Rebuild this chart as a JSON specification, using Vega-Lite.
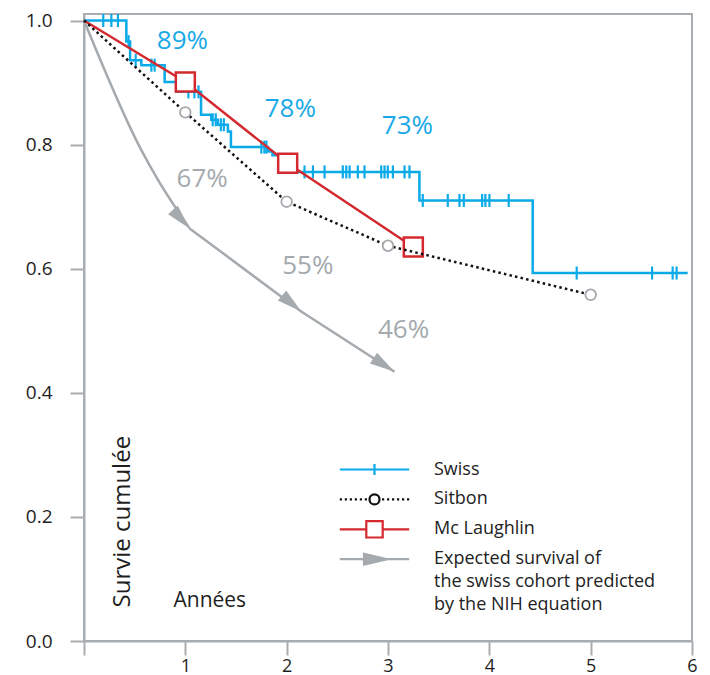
{
  "$schema": "https://vega.github.io/schema/vega-lite/v6.json",
  "width": 608,
  "height": 627,
  "autosize": "none",
  "padding": {"left": 84, "top": 14, "right": 18, "bottom": 34},
  "background": "white",
  "config": {
    "font": "Open Sans",
    "view": {"stroke": "#a8adb1", "strokeWidth": 2},
    "axis": {
      "grid": false,
      "domainColor": "#a8adb1",
      "domainWidth": 2,
      "tickColor": "#a8adb1",
      "tickWidth": 2,
      "tickSize": 14,
      "labelFont": "Open Sans",
      "labelFontSize": 19,
      "labelColor": "#1e1e1e",
      "titleFont": "Open Sans",
      "titleFontSize": 22,
      "titleFontWeight": "normal",
      "titleColor": "#1e1e1e",
      "labelFlush": false,
      "labelOverlap": false
    }
  },
  "datasets": {
    "swiss": [
      {"x": 0, "y": 1.0}, {"x": 0.418, "y": 0.966}, {"x": 0.455, "y": 0.936},
      {"x": 0.566, "y": 0.928}, {"x": 0.796, "y": 0.901}, {"x": 0.91, "y": 0.885},
      {"x": 1.155, "y": 0.848}, {"x": 1.256, "y": 0.84}, {"x": 1.32, "y": 0.832},
      {"x": 1.42, "y": 0.821}, {"x": 1.45, "y": 0.796}, {"x": 1.815, "y": 0.789},
      {"x": 1.86, "y": 0.783}, {"x": 1.93, "y": 0.768}, {"x": 2.03, "y": 0.756},
      {"x": 3.31, "y": 0.71}, {"x": 4.428, "y": 0.593}, {"x": 5.957, "y": 0.593}
    ],
    "swissCensor": [
      {"x": 0.19, "y": 1.0}, {"x": 0.27, "y": 1.0}, {"x": 0.335, "y": 1.0},
      {"x": 0.44, "y": 0.966}, {"x": 0.51, "y": 0.936},
      {"x": 0.665, "y": 0.928}, {"x": 0.697, "y": 0.928},
      {"x": 1.03, "y": 0.885}, {"x": 1.09, "y": 0.885}, {"x": 1.13, "y": 0.885},
      {"x": 1.27, "y": 0.84}, {"x": 1.3, "y": 0.84},
      {"x": 1.35, "y": 0.832}, {"x": 1.38, "y": 0.832},
      {"x": 1.75, "y": 0.796}, {"x": 1.78, "y": 0.796}, {"x": 1.8, "y": 0.796},
      {"x": 2.176, "y": 0.756}, {"x": 2.259, "y": 0.756}, {"x": 2.374, "y": 0.756},
      {"x": 2.554, "y": 0.756}, {"x": 2.588, "y": 0.756}, {"x": 2.621, "y": 0.756},
      {"x": 2.702, "y": 0.756}, {"x": 2.768, "y": 0.756}, {"x": 2.933, "y": 0.756},
      {"x": 2.966, "y": 0.756}, {"x": 2.998, "y": 0.756}, {"x": 3.048, "y": 0.756},
      {"x": 3.163, "y": 0.756}, {"x": 3.212, "y": 0.756},
      {"x": 3.343, "y": 0.71}, {"x": 3.59, "y": 0.71}, {"x": 3.705, "y": 0.71},
      {"x": 3.748, "y": 0.71}, {"x": 3.929, "y": 0.71}, {"x": 3.961, "y": 0.71},
      {"x": 4.001, "y": 0.71}, {"x": 4.191, "y": 0.71},
      {"x": 4.862, "y": 0.593}, {"x": 5.606, "y": 0.593}, {"x": 5.809, "y": 0.593},
      {"x": 5.848, "y": 0.593}
    ],
    "sitbon": [
      {"x": 0, "y": 1.0}, {"x": 1.0, "y": 0.852}, {"x": 2.0, "y": 0.708},
      {"x": 3.0, "y": 0.637}, {"x": 5.0, "y": 0.558}
    ],
    "mcl": [
      {"x": 0, "y": 1.0}, {"x": 1.0, "y": 0.901}, {"x": 2.01, "y": 0.77},
      {"x": 3.25, "y": 0.635}
    ],
    "expected": [
      {"x": 0, "y": 1.0}, {"x": 0.566, "y": 0.791}, {"x": 0.73, "y": 0.743},
      {"x": 1.042, "y": 0.665}, {"x": 2.144, "y": 0.531}, {"x": 3.064, "y": 0.434}
    ],
    "labels": [
      {"x": 0.971, "y": 0.967, "text": "89%", "group": "Swiss"},
      {"x": 2.036, "y": 0.857, "text": "78%", "group": "Swiss"},
      {"x": 3.192, "y": 0.83, "text": "73%", "group": "Swiss"},
      {"x": 1.166, "y": 0.744, "text": "67%", "group": "Expected"},
      {"x": 2.209, "y": 0.605, "text": "55%", "group": "Expected"},
      {"x": 3.153, "y": 0.501, "text": "46%", "group": "Expected"}
    ]
  },
  "encoding": {
    "x": {
      "field": "x",
      "type": "quantitative",
      "scale": {"domain": [0, 6], "nice": false, "zero": false},
      "axis": {
        "values": [0, 1, 2, 3, 4, 5, 6],
        "labelExpr": "datum.value == 0 ? '' : datum.label",
        "labelPadding": 2,
        "labelFontSize": 18,
        "title": "Années",
        "titleFontSize": 21,
        "titleX": 89,
        "titleY": -35,
        "titleAlign": "left",
        "titleBaseline": "alphabetic",
        "titleAnchor": null
      }
    },
    "y": {
      "field": "y",
      "type": "quantitative",
      "scale": {"domain": [0, 1.0105], "nice": false, "zero": false},
      "axis": {
        "values": [0, 0.2, 0.4, 0.6, 0.8, 1.0],
        "format": ".1f",
        "labelPadding": 18,
        "title": "Survie cumulée",
        "titleFontSize": 24,
        "titleAngle": 270,
        "titleX": 45,
        "titleY": 593,
        "titleAlign": "left",
        "titleBaseline": "alphabetic",
        "titleAnchor": null
      }
    }
  },
  "layer": [
    {
      "data": {"name": "swiss"},
      "mark": {"type": "line", "interpolate": "step-after", "strokeWidth": 2.5},
      "encoding": {
        "stroke": {
          "datum": "Swiss",
          "type": "nominal",
          "scale": {
            "domain": ["Swiss", "Sitbon", "Mc Laughlin", "Expected"],
            "range": ["#0aaae8", "#111111", "#d42a2f", "#a5aaae"]
          },
          "legend": {
            "title": null,
            "orient": "none",
            "legendX": 279,
            "legendY": 444,
            "padding": 0,
            "symbolSize": 400,
            "symbolStrokeWidth": 2.2,
            "labelOffset": 48,
            "labelFont": "Open Sans",
            "labelFontSize": 18,
            "labelColor": "#222222",
            "labelLimit": 400,
            "rowPadding": 0.9,
            "labelExpr": "datum.label == 'Expected' ? ['Expected survival of', 'the swiss cohort predicted', 'by the NIH equation'] : datum.label",
            "encode": {
              "symbols": {
                "update": {
                  "shape": {"signal": "datum.value == 'Swiss' ? 'M0,-1M0,1M-3.47,0H3.47M0,-0.55V0.55' : datum.value == 'Sitbon' ? 'M0,-1M0,1M-3.47,0h0.22M-2.97,0h0.22M-2.47,0h0.22M-1.97,0h0.22M-1.47,0h0.22M-0.97,0h0.22M0.75,0h0.22M1.25,0h0.22M1.75,0h0.22M2.25,0h0.22M2.75,0h0.22M3.25,0h0.22M-0.5,0A0.5,0.5,0,1,1,0.5,0A0.5,0.5,0,1,1,-0.5,0Z' : datum.value == 'Mc Laughlin' ? 'M0,-1M0,1M-3.47,0H-0.82M0.82,0H3.47M-0.82,-0.82H0.82V0.82H-0.82Z' : 'M0,-1M0,1M-3.47,0H3.47M-1.05,-0.55L1.3,0L-1.05,0.55Z'"},
                  "fill": {"signal": "datum.value == 'Expected' ? '#a5aaae' : 'white'"},
                  "strokeDash": {"value": []},
                  "strokeWidth": {"value": 2.2},
                  "opacity": {"value": 1}
                }
              },
              "labels": {
                "update": {
                  "lineHeight": {"value": 22.7}
                }
              }
            }
          }
        }
      }
    },
    {
      "data": {"name": "swissCensor"},
      "mark": {"type": "point", "shape": "M0,-1V1", "size": 169, "filled": false, "stroke": "#0aaae8", "strokeWidth": 2.2, "opacity": 1}
    },
    {
      "data": {"name": "expected"},
      "transform": [{"filter": "datum.x <= 1.042"}],
      "mark": {"type": "line", "interpolate": "monotone", "strokeWidth": 2.5},
      "encoding": {"stroke": {"datum": "Expected", "type": "nominal"}}
    },
    {
      "data": {"name": "expected"},
      "transform": [{"filter": "datum.x >= 1.042"}],
      "mark": {"type": "line", "strokeWidth": 2.5},
      "encoding": {"stroke": {"datum": "Expected", "type": "nominal"}}
    },
    {
      "data": {"name": "expected"},
      "transform": [{"filter": "datum.x >= 1"}],
      "mark": {"type": "point", "shape": "M0,0L-5,-1.3L-5,1.3Z", "size": 100, "filled": true, "fill": "#a5aaae", "strokeWidth": 0, "opacity": 1},
      "encoding": {
        "angle": {"field": "x", "type": "quantitative", "scale": {"domain": [1.042, 3.064], "range": [48, 33], "zero": false}, "legend": null}
      }
    },
    {
      "data": {"name": "mcl"},
      "mark": {"type": "line", "strokeWidth": 2.5},
      "encoding": {"stroke": {"datum": "Mc Laughlin", "type": "nominal"}}
    },
    {
      "data": {"name": "mcl"},
      "transform": [{"filter": "datum.x > 0"}],
      "mark": {"type": "point", "shape": "square", "size": 361, "filled": true, "fill": "white", "stroke": "#d42a2f", "strokeWidth": 2.5, "opacity": 1}
    },
    {
      "data": {"name": "sitbon"},
      "mark": {"type": "line", "strokeWidth": 2.5, "strokeDash": [2.5, 3.2]},
      "encoding": {"stroke": {"datum": "Sitbon", "type": "nominal"}}
    },
    {
      "data": {"name": "sitbon"},
      "transform": [{"filter": "datum.x > 0"}],
      "mark": {"type": "point", "shape": "circle", "size": 113, "filled": true, "fill": "white", "stroke": "#a5a9ad", "strokeWidth": 1.8, "opacity": 1}
    },
    {
      "data": {"name": "labels"},
      "mark": {"type": "text", "font": "Open Sans", "fontSize": 26, "align": "center", "baseline": "middle"},
      "encoding": {
        "text": {"field": "text"},
        "color": {
          "field": "group",
          "type": "nominal",
          "scale": {"domain": ["Swiss", "Expected"], "range": ["#1aa9e6", "#a5aaae"]},
          "legend": null
        }
      }
    }
  ]
}
